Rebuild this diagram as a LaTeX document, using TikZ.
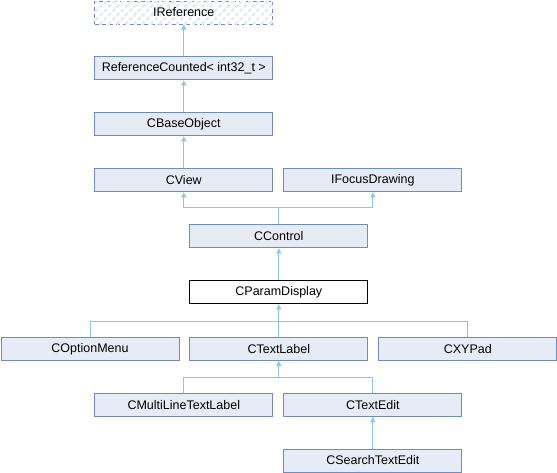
\documentclass[tikz,border=0pt]{standalone}
\usepackage{fontspec}
\setmainfont{Liberation Sans}
\usetikzlibrary{arrows.meta,patterns.meta,calc}
\definecolor{boxfill}{HTML}{E7EBF5}
\definecolor{boxline}{HTML}{6E8BC4}
\definecolor{edgecol}{HTML}{8CC5E8}
\tikzset{
  cls/.style={draw=boxline, fill=boxfill, line width=1pt, minimum width=178pt, minimum height=23pt,
    inner sep=0pt, anchor=north west, font=\fontsize{12.5}{14}\selectfont},
  cur/.style={cls, draw=black, fill=white},
  ext/.style={cls, fill=white, draw=boxline, dash pattern=on 4pt off 3pt,
    postaction={pattern={Lines[angle=45,distance=6pt,line width=2.6pt]}, pattern color=boxfill}},
  conn/.style={draw=edgecol, line width=1pt},
  inh/.style={conn, -{Triangle[length=5pt,width=5pt]}},
}
\begin{document}
\begin{tikzpicture}[x=1pt,y=1pt]
\useasboundingbox (0,0) rectangle (557,-472);
% nodes
\node[ext] (iref) at (94.3,-0.5) {IReference};
\node[cls] (rc)   at (94.3,-56.3) {ReferenceCounted< int32\_t >};
\node[cls] (bo)   at (94.3,-112.3) {CBaseObject};
\node[cls] (cv)   at (94.3,-168.3) {CView};
\node[cls] (ifd)  at (283.3,-168.3) {IFocusDrawing};
\node[cls] (cc)   at (189.3,-224.3) {CControl};
\node[cur] (pd)   at (189.3,-280.3) {CParamDisplay};
\node[cls] (om)   at (0.5,-337) {COptionMenu};
\node[cls] (tl)   at (189.3,-337) {CTextLabel};
\node[cls] (xy)   at (378.3,-337) {CXYPad};
\node[cls] (ml)   at (94.3,-393) {CMultiLineTextLabel};
\node[cls] (te)   at (283.3,-393) {CTextEdit};
\node[cls] (ste)  at (283.3,-448.5) {CSearchTextEdit};
% junctions
\coordinate (j1) at ($(cc.north)+(0,16.5)$);
\coordinate (j2) at ($(pd.south)+(0,-17.5)$);
\coordinate (j3) at ($(tl.south)+(0,-16.8)$);
% edges
\draw[inh] (rc.north) -- (iref.south);
\draw[inh] (bo.north) -- (rc.south);
\draw[inh] (cv.north) -- (bo.south);
\draw[conn] (cc.north) -- (j1);
\draw[inh] (j1) -| (cv.south);
\draw[inh] (j1) -| (ifd.south);
\draw[inh] (pd.north) -- (cc.south);
\draw[conn] (om.north) |- (j2);
\draw[conn] (xy.north) |- (j2);
\draw[inh] (tl.north) -- (pd.south);
\draw[conn] (ml.north) |- (j3);
\draw[conn] (te.north) |- (j3);
\draw[inh] (j3) -- (tl.south);
\draw[inh] (ste.north) -- (te.south);
\end{tikzpicture}
\end{document}
